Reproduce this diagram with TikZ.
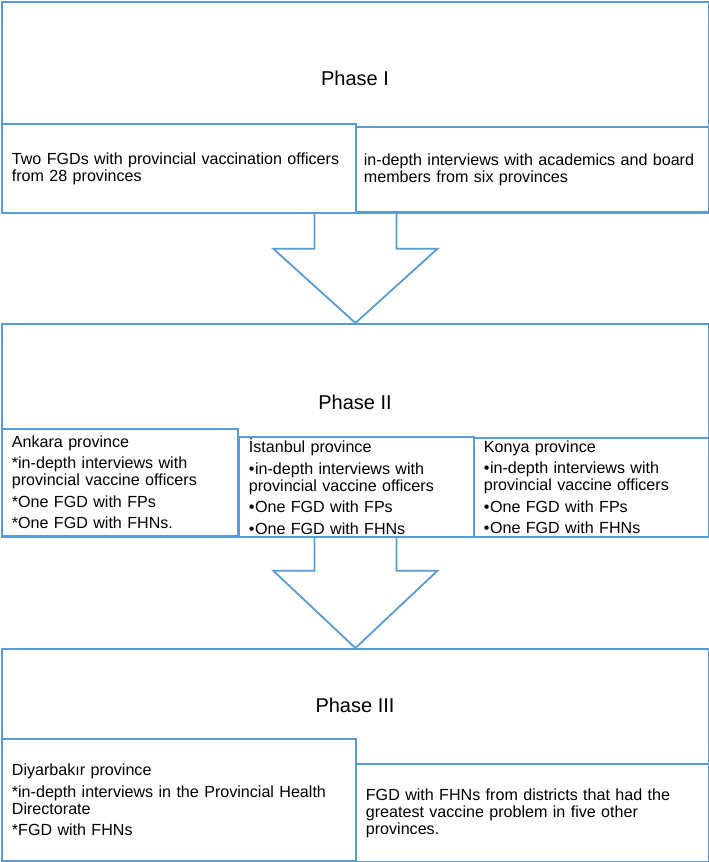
\documentclass[tikz,border=0pt]{standalone}
\usepackage{fontspec}
\setmainfont{Liberation Sans}
\usetikzlibrary{calc,positioning}

\definecolor{smartblue}{RGB}{91,155,213}

\tikzset{
    phasebox/.style={draw=smartblue,line width=1.8pt,anchor=north west,inner sep=0pt},
    subbox/.style={draw=smartblue,fill=white,line width=1.8pt,anchor=north west,
        inner xsep=10pt,inner ysep=2pt,align=left,
        font=\fontsize{16.1}{17}\selectfont\setlength{\parskip}{4.5pt}},
    phasetitle/.style={font=\fontsize{20}{24}\selectfont},
    flow/.style={draw=smartblue,line width=1.8pt,line join=miter}
}

\newcommand{\bitem}[1]{{\hangindent=7pt\hangafter=1\noindent\textbullet\kern0.5pt#1\par}}

\begin{document}
\begin{tikzpicture}[x=1pt,y=-1pt]
    \useasboundingbox[fill=white] (0,0) rectangle (709,862);

    % phase frames
    \node[phasebox,minimum width=707,minimum height=211] (ph1) at (1,1) {};
    \node[phasebox,minimum width=707,minimum height=213] (ph2) at (1,323) {};
    \node[phasebox,minimum width=707,minimum height=213] (ph3) at (1,648) {};

    \node[phasetitle] (t1) at (355,78) {Phase I};
    \node[phasetitle] (t2) at (355,402) {Phase II};
    \node[phasetitle] (t3) at (355,705) {Phase III};

    % Phase I
    \node[subbox,text width=334,minimum height=89] (p1a) at (1,123)
        {Two FGDs with provincial vaccination officers\\from 28 provinces};
    \node[subbox,inner xsep=8pt,text width=337,minimum height=85] (p1b) at (355,126)
        {in-depth interviews with academics and board\\members from six provinces};

    % Phase II
    \node[subbox,text width=216,minimum height=107] (ankara) at (1,428)
        {Ankara province\par
         *in-depth interviews with\\provincial vaccine officers\par
         *One FGD with FPs\par
         *One FGD with FHNs.};
    \node[subbox,text width=215,minimum height=97] (istanbul) at (238,436)
        {İstanbul province\par
         \bitem{in-depth interviews with\\provincial vaccine officers}
         \bitem{One FGD with FPs}
         \bitem{One FGD with FHNs}};
    \node[subbox,text width=215,minimum height=99] (konya) at (473,437)
        {Konya province\par
         \bitem{in-depth interviews with\\provincial vaccine officers}
         \bitem{One FGD with FPs}
         \bitem{One FGD with FHNs}};

    % Phase III
    \node[subbox,text width=334,minimum height=122] (p3a) at (1,738)
        {Diyarbakır province\par
         *in-depth interviews in the Provincial Health\\Directorate\par
         *FGD with FHNs};
    \node[subbox,text width=333,minimum height=98] (p3b) at (355,763)
        {FGD with FHNs from districts that had the\\greatest vaccine problem in five other\\provinces.};

    % block arrows
    \draw[flow] ($(ph1.south)+(-41,0)$) |- ($(ph1.south)+(-82,35)$) -- (ph2.north)
        -- ($(ph1.south)+(82,35)$) -| ($(ph1.south)+(41,0)$);
    \draw[flow] ($(ph2.south)+(-41,0)$) |- ($(ph2.south)+(-82,33)$) -- (ph3.north)
        -- ($(ph2.south)+(82,33)$) -| ($(ph2.south)+(41,0)$);
\end{tikzpicture}
\end{document}
